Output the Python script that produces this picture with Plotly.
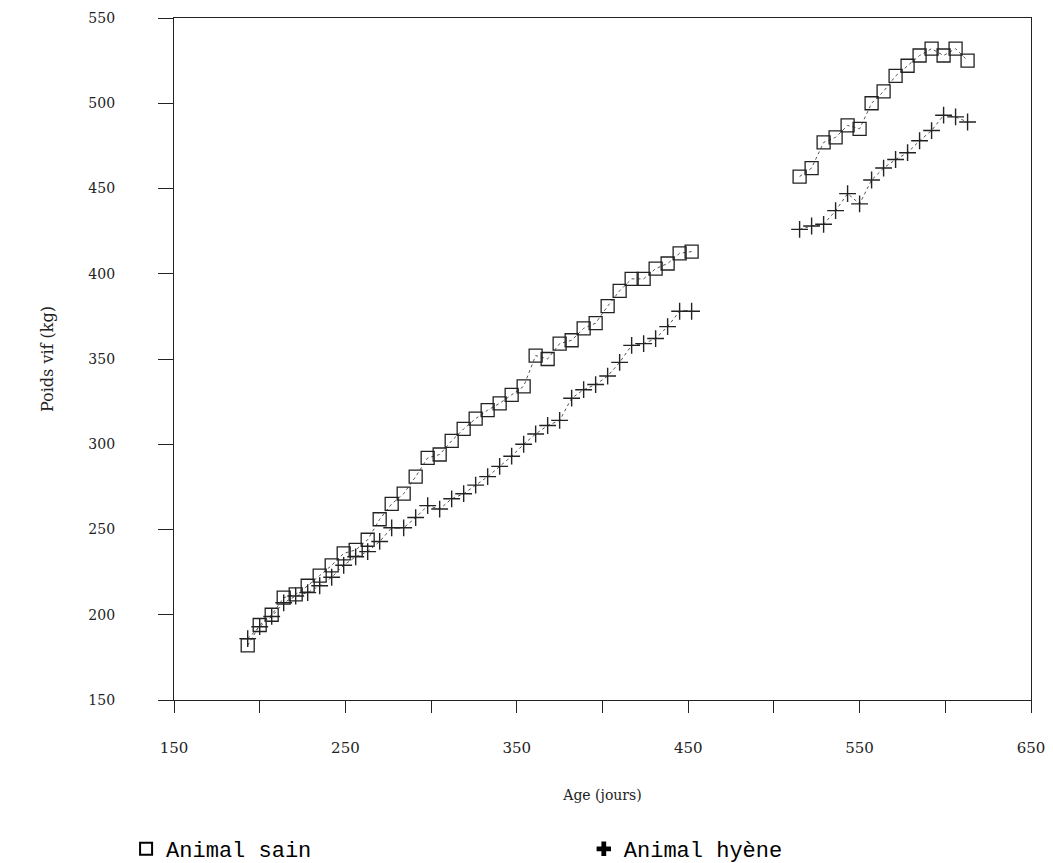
import plotly.graph_objects as go

# Ages (days): weekly weighings, two sessions
age_1 = [193, 200, 207, 214, 221, 228, 235, 242, 249, 256, 263, 270, 277, 284, 291,
         298, 305, 312, 319, 326, 333, 340, 347, 354, 361, 368, 375, 382, 389, 396,
         403, 410, 417, 424, 431, 438, 445, 452]
age_2 = [515, 522, 529, 536, 543, 550, 557, 564, 571, 578, 585, 592, 599, 606, 613]

# Animal sain (healthy)
sain_1 = [182, 194, 200, 210, 212, 217, 223, 229, 236, 238, 244, 256, 265, 271, 281,
          292, 294, 302, 309, 315, 320, 324, 329, 334, 352, 350, 359, 361, 368, 371,
          381, 390, 397, 397, 403, 406, 412, 413]
sain_2 = [457, 462, 477, 480, 487, 485, 500, 507, 516, 522, 528, 532, 528, 532, 525]

# Animal hyène
hyene_1 = [186, 193, 199, 207, 211, 213, 217, 222, 229, 234, 237, 243, 251, 251, 257,
           264, 262, 268, 271, 276, 281, 287, 293, 300, 306, 311, 314, 327, 332, 335,
           340, 348, 358, 359, 362, 369, 378, 378]
hyene_2 = [426, 428, 429, 437, 447, 441, 455, 462, 467, 471, 478, 484, 493, 492, 489]

x_ticks = [150, 200, 250, 300, 350, 400, 450, 500, 550, 600, 650]
x_labels = ["150", "", "250", "", "350", "", "450", "", "550", "", "650"]
y_ticks = [150, 200, 250, 300, 350, 400, 450, 500, 550]

ages = age_1 + [None] + age_2
sain = sain_1 + [None] + sain_2
hyene = hyene_1 + [None] + hyene_2

ink = "#222222"
serif = "DejaVu Serif"
mono = "Liberation Mono"

fig = go.Figure()
fig.add_trace(go.Scatter(
    x=ages, y=sain, mode="lines+markers", connectgaps=False, showlegend=False,
    line=dict(color="#555555", width=1, dash="dot"),
    marker=dict(symbol="square-open", size=13, color=ink, line=dict(width=1.3, color=ink)),
))
fig.add_trace(go.Scatter(
    x=ages, y=hyene, mode="lines+markers", connectgaps=False, showlegend=False,
    line=dict(color="#555555", width=1, dash="dot"),
    marker=dict(symbol="cross-thin-open", size=12, color=ink, line=dict(width=1.4, color=ink)),
))
# legend entries
fig.add_trace(go.Scatter(
    x=[None], y=[None], mode="markers", name="Animal sain", legend="legend",
    marker=dict(symbol="square-open", size=14, color="black", line=dict(width=3.5, color="black")),
))
fig.add_trace(go.Scatter(
    x=[None], y=[None], mode="markers", name="Animal hyène", legend="legend2",
    marker=dict(symbol="cross", size=14, color="black", line=dict(width=0)),
))

legend_style = dict(
    orientation="h", xref="container", yref="container",
    xanchor="left", y=0.0164, yanchor="middle", itemsizing="constant",
    font=dict(family=mono, size=22, color="black"),
    bgcolor="rgba(0,0,0,0)",
)

fig.update_layout(
    width=1045, height=855,
    margin=dict(l=166, r=22, t=10, b=163, autoexpand=False),
    paper_bgcolor="white", plot_bgcolor="white",
    font=dict(family=serif, color=ink),
    showlegend=True,
    legend=dict(x=0.113, **legend_style),
    legend2=dict(x=0.551, **legend_style),
    xaxis=dict(
        range=[150, 650], tickmode="array", tickvals=x_ticks, ticktext=x_labels,
        ticks="outside", ticklen=12, tickwidth=1, tickcolor=ink,
        showline=True, linecolor=ink, linewidth=1.2, mirror=True,
        showgrid=False, zeroline=False, automargin=False,
        tickfont=dict(family=serif, size=15, color=ink), ticklabelstandoff=22,
        title=dict(text="Age (jours)", font=dict(family=serif, size=14, color=ink), standoff=34),
    ),
    yaxis=dict(
        range=[150, 550], tickmode="array", tickvals=y_ticks,
        ticks="outside", ticklen=15, tickwidth=1, tickcolor=ink,
        showline=True, linecolor=ink, linewidth=1.2, mirror=True,
        showgrid=False, zeroline=False, automargin=False,
        tickfont=dict(family=serif, size=14, color=ink), ticklabelstandoff=40,
        title=dict(text="Poids vif (kg)", font=dict(family=serif, size=16, color=ink), standoff=30),
    ),
)

fig.write_html("out.html")
